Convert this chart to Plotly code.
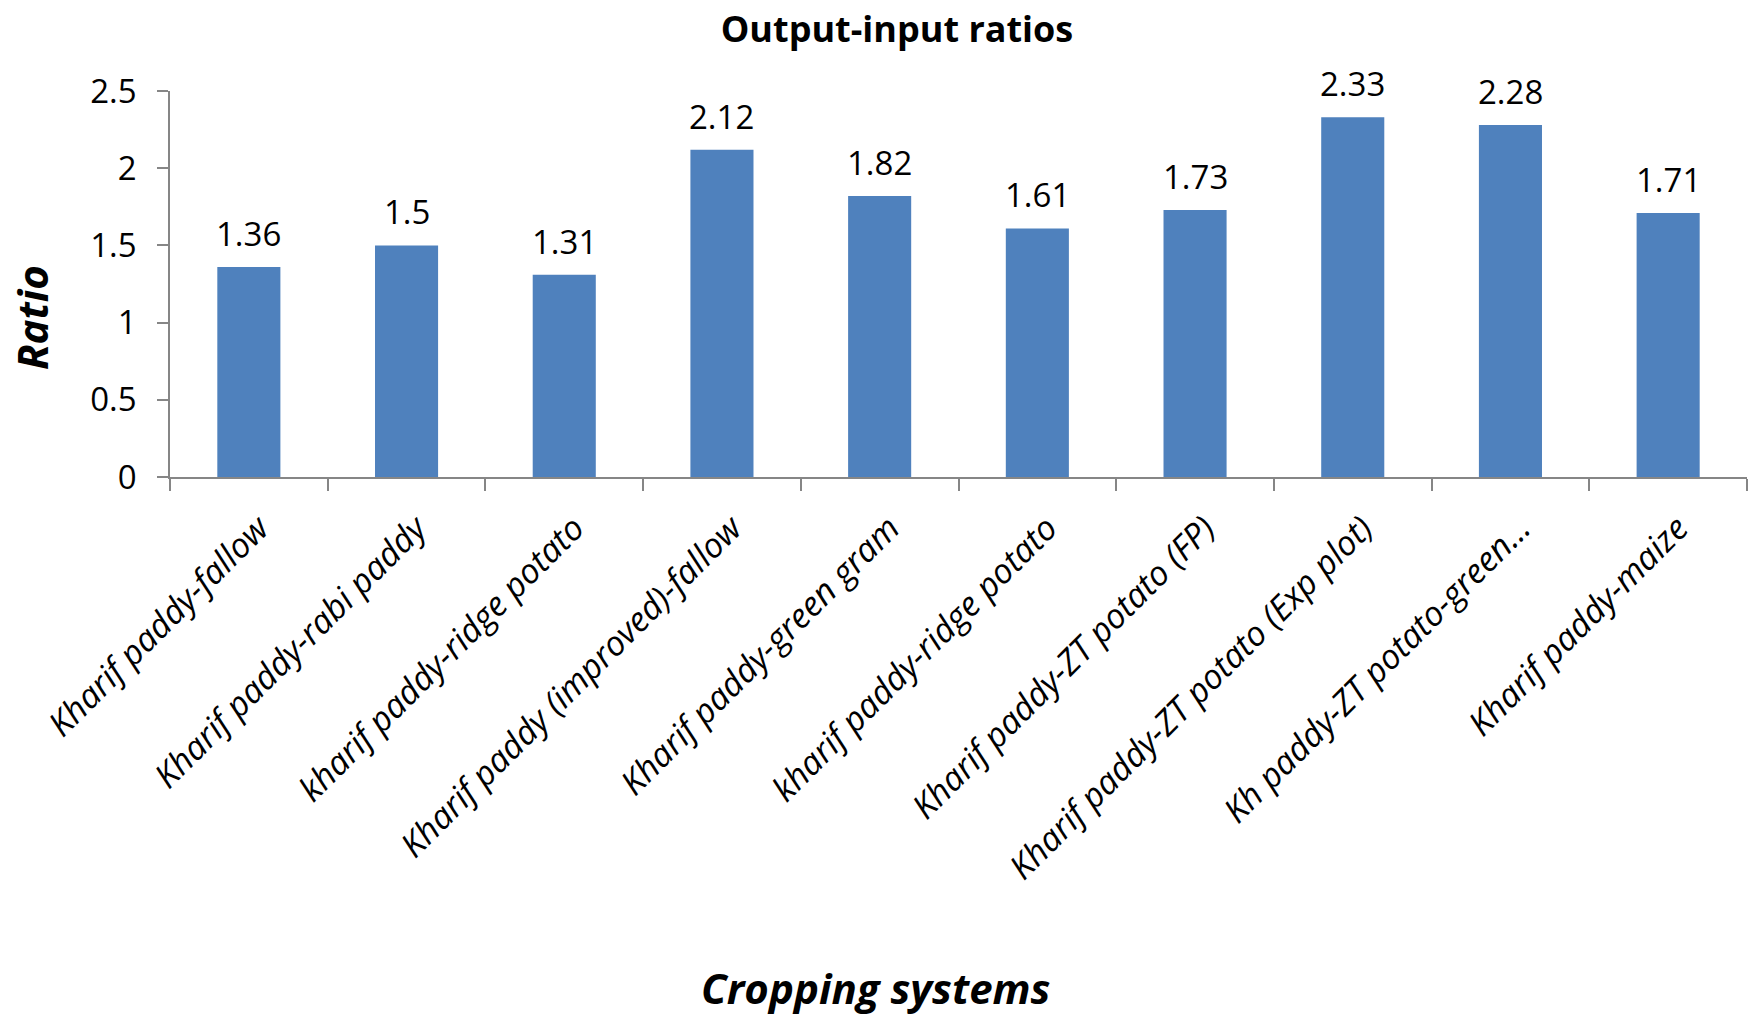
import plotly.graph_objects as go

categories = [
    "Kharif paddy-fallow",
    "Kharif paddy-rabi paddy",
    "kharif paddy-ridge potato",
    "Kharif paddy (improved)-fallow",
    "Kharif paddy-green gram",
    "kharif paddy-ridge potato",
    "Kharif paddy-ZT potato (FP)",
    "Kharif paddy-ZT potato (Exp plot)",
    "Kh paddy-ZT potato-green…",
    "Kharif paddy-maize",
]
ratios = [1.36, 1.5, 1.31, 2.12, 1.82, 1.61, 1.73, 2.33, 2.28, 1.71]
value_labels = ["1.36", "1.5", "1.31", "2.12", "1.82", "1.61", "1.73", "2.33", "2.28", "1.71"]
y_ticks = [0, 0.5, 1, 1.5, 2, 2.5]
y_tick_text = ["0", "0.5", "1", "1.5", "2", "2.5"]

positions = list(range(len(categories)))
boundaries = [p - 0.5 for p in positions] + [positions[-1] + 0.5]

FONT = "Open Sans"
AXIS_GRAY = "#868686"

FW, FH = 1754, 1015
ML, MR, MT, MB = 170, 7, 91, 538
PW, PH = FW - ML - MR, FH - MT - MB


def px(fx):
    return (fx - ML) / PW


def py(fy):
    return (MT + PH - fy) / PH


fig = go.Figure()
fig.add_trace(go.Bar(
    x=positions,
    y=ratios,
    width=0.4,
    marker=dict(color="#4F81BD", line=dict(width=0)),
    hoverinfo="skip",
))

for p, v, t in zip(positions, ratios, value_labels):
    fig.add_annotation(x=p, y=v, text=t, showarrow=False, xanchor="center",
                       yanchor="bottom", yshift=9,
                       font=dict(family=FONT, size=33, color="black"))

fig.update_layout(
    width=FW, height=FH,
    margin=dict(l=ML, r=MR, t=MT, b=MB, autoexpand=False),
    paper_bgcolor="white", plot_bgcolor="white",
    showlegend=False,
    font=dict(family=FONT, color="black"),
    title=dict(text="Output-input ratios", x=897 / FW, xanchor="center",
               y=1 - 29 / FH, yanchor="middle",
               font=dict(family=FONT, size=36, weight="bold", color="black")),
)

fig.update_xaxes(
    range=[boundaries[0], boundaries[-1]],
    tickmode="array", tickvals=positions, ticktext=categories,
    tickangle=-45, ticks="",
    tickfont=dict(family=FONT, size=34, style="italic", color="black"),
    ticklabelstandoff=16, ticklabelshift=10,
    showline=True, linecolor=AXIS_GRAY, linewidth=1.5,
    showgrid=False, zeroline=False,
    minor=dict(tickmode="array", tickvals=boundaries, ticks="outside",
               ticklen=12, tickcolor=AXIS_GRAY, tickwidth=1.5, showgrid=False),
)
fig.update_yaxes(
    range=[0, 2.5],
    tickmode="array", tickvals=y_ticks, ticktext=y_tick_text,
    ticks="outside", ticklen=11, tickcolor=AXIS_GRAY, tickwidth=1.5,
    tickfont=dict(family=FONT, size=33, color="black"),
    ticklabelstandoff=14,
    showline=True, linecolor=AXIS_GRAY, linewidth=1.5,
    showgrid=False, zeroline=False,
)

fig.add_annotation(text="Ratio", xref="paper", yref="paper",
                   x=px(31), y=py(318),
                   xanchor="center", yanchor="middle", textangle=-90, showarrow=False,
                   font=dict(family=FONT, size=42, weight="bold", style="italic", color="black"))
fig.add_annotation(text="Cropping systems", xref="paper", yref="paper",
                   x=px(876), y=py(987),
                   xanchor="center", yanchor="middle", showarrow=False,
                   font=dict(family=FONT, size=42, weight="bold", style="italic", color="black"))

fig.write_html("out.html", config={"displayModeBar": False},
               post_script="document.body.style.margin='0px';")
